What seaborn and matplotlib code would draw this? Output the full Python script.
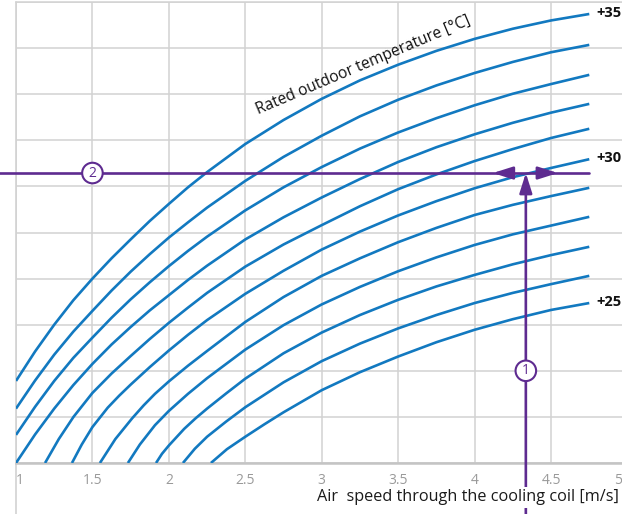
import numpy as np
import pandas as pd
import matplotlib
matplotlib.use("Agg")
import matplotlib.pyplot as plt
from matplotlib.transforms import ScaledTranslation
import seaborn as sns

# readings of the curves: air speed [m/s] -> output (grid units, 0..10)
temps = [35, 34, 33, 32, 31, 30, 29, 28, 27, 26, 25]

xq = [1.0, 1.125, 1.25, 1.375, 1.5, 1.625, 1.75, 1.875, 2.0, 2.125, 2.25, 2.5, 2.75,
      3.0, 3.25, 3.5, 3.75, 4.0, 4.25, 4.5, 4.75]
x35 = xq
y35 = [1.78, 2.42, 3.00, 3.53, 4.00, 4.44, 4.85, 5.25, 5.62, 5.98, 6.31, 6.92, 7.44,
       7.90, 8.30, 8.64, 8.94, 9.20, 9.42, 9.60, 9.74]
x34 = xq
y34 = [1.18, 1.79, 2.35, 2.85, 3.30, 3.74, 4.15, 4.53, 4.89, 5.22, 5.54, 6.12, 6.64,
       7.10, 7.52, 7.88, 8.19, 8.46, 8.70, 8.91, 9.07]
x33 = xq
y33 = [0.61, 1.22, 1.78, 2.28, 2.72, 3.15, 3.55, 3.92, 4.27, 4.60, 4.91, 5.48, 5.98,
       6.42, 6.82, 7.17, 7.48, 7.76, 8.01, 8.22, 8.42]
x32 = xq
y32 = [0.0, 0.62, 1.18, 1.69, 2.15, 2.57, 2.95, 3.31, 3.64, 3.97, 4.28, 4.85, 5.33,
       5.76, 6.16, 6.53, 6.85, 7.13, 7.38, 7.60, 7.79]
x31 = [1.19, 1.28, 1.376, 1.5, 1.625, 1.75, 1.875, 2.0, 2.125, 2.25, 2.5, 2.75, 3.0,
       3.25, 3.5, 3.75, 4.0, 4.25, 4.5, 4.75]
y31 = [0.0, 0.52, 1.0, 1.52, 1.94, 2.32, 2.69, 3.04, 3.37, 3.69, 4.26, 4.74, 5.16,
       5.57, 5.94, 6.26, 6.55, 6.81, 7.05, 7.25]
x30 = [1.366, 1.43, 1.5, 1.6, 1.675, 1.75, 1.875, 2.0, 2.125, 2.25, 2.5, 2.75, 3.0,
       3.25, 3.5, 3.75, 4.0, 4.25, 4.5, 4.75]
y30 = [0.0, 0.40, 0.78, 1.20, 1.46, 1.70, 2.08, 2.44, 2.78, 3.10, 3.67, 4.17, 4.63,
       5.02, 5.37, 5.68, 5.96, 6.20, 6.40, 6.59]
x29 = [1.549, 1.65, 1.76, 1.835, 1.909, 2.0, 2.125, 2.25, 2.5, 2.75, 3.0, 3.25, 3.5,
       3.75, 4.0, 4.25, 4.5, 4.75]
y29 = [0.0, 0.52, 0.97, 1.25, 1.50, 1.77, 2.11, 2.43, 3.06, 3.60, 4.06, 4.44, 4.79,
       5.10, 5.38, 5.60, 5.79, 5.97]
x28 = [1.732, 1.81, 1.909, 2.0, 2.125, 2.25, 2.5, 2.75, 3.0, 3.25, 3.5, 3.75, 4.0,
       4.25, 4.5, 4.75]
y28 = [0.0, 0.40, 0.82, 1.13, 1.50, 1.84, 2.46, 2.99, 3.44, 3.82, 4.16, 4.46, 4.73,
       4.96, 5.15, 5.34]
x27 = [1.916, 1.955, 2.0, 2.1, 2.175, 2.25, 2.375, 2.5, 2.75, 3.0, 3.25, 3.5, 3.75,
       4.0, 4.25, 4.5, 4.75]
y27 = [0.0, 0.20, 0.38, 0.74, 0.97, 1.18, 1.51, 1.83, 2.38, 2.83, 3.21, 3.54, 3.83,
       4.08, 4.31, 4.51, 4.69]
x26 = [2.092, 2.17, 2.25, 2.375, 2.5, 2.75, 3.0, 3.25, 3.5, 3.75, 4.0, 4.25, 4.5, 4.75]
y26 = [0.0, 0.31, 0.57, 0.90, 1.21, 1.75, 2.21, 2.59, 2.92, 3.21, 3.47, 3.69, 3.88, 4.06]
x25 = [2.275, 2.38, 2.5, 2.625, 2.75, 3.0, 3.25, 3.5, 3.75, 4.0, 4.25, 4.5, 4.75]
y25 = [0.0, 0.30, 0.57, 0.84, 1.10, 1.58, 1.97, 2.31, 2.62, 2.89, 3.12, 3.32, 3.47]

xs = [x35, x34, x33, x32, x31, x30, x29, x28, x27, x26, x25]
ys = [y35, y34, y33, y32, y31, y30, y29, y28, y27, y26, y25]
labelled = [35, 30, 25]

xticks = [1, 1.5, 2, 2.5, 3, 3.5, 4, 4.5, 5]
xtick_labels = ["1", "1.5", "2", "2.5", "3", "3.5", "4", "4.5", "5"]
yticks = list(range(0, 11))

# worked example: 4.33 m/s at +30 degC
op_speed = 4.335
op_level = 6.29
marker1_level = 2.0
marker2_speed = 1.5

blue = "#1279c0"
purple = "#5e2b90"
gridc = "#d2d2d2"

df = pd.concat(
    [pd.DataFrame({"speed": x, "output": y, "temp": t}) for x, y, t in zip(xs, ys, temps)],
    ignore_index=True,
)

sns.set_style("white")
plt.rcParams["font.family"] = ["Open Sans", "DejaVu Sans"]

fig = plt.figure(figsize=(6.22, 5.14), dpi=100)
ax = fig.add_axes([16 / 622, 51 / 514, 611.5 / 622, 461 / 514])

sns.lineplot(data=df, x="speed", y="output", units="temp", estimator=None,
             sort=False, color=blue, lw=1.9, ax=ax, zorder=3)
for line in ax.lines:
    line.set_solid_joinstyle("round")
    line.set_solid_capstyle("butt")

ax.set_xlim(1, 5)
ax.set_ylim(0, 10)
ax.set_xticks(xticks)
ax.set_xticklabels(xtick_labels)
ax.set_yticks(yticks)
ax.set_yticklabels([])
ax.set_xlabel("")
ax.set_ylabel("")
ax.grid(True, color=gridc, lw=1.1, zorder=0)
ax.set_axisbelow(True)
ax.tick_params(length=0, colors="#9a9a9a", labelsize=10, pad=7)
labs = ax.get_xticklabels()
for lab in labs:
    lab.set_color("#9a9a9a")
labs[0].set_ha("left")
labs[-1].set_ha("right")
labs[-1].set_transform(labs[-1].get_transform()
                       + ScaledTranslation(-4 / 72, 0, fig.dpi_scale_trans))

ax.spines["right"].set_visible(False)
ax.spines["left"].set_visible(False)
ax.spines["top"].set_color(gridc)
ax.spines["top"].set_linewidth(1.1)
ax.spines["bottom"].set_color("#c4c4c4")
ax.spines["bottom"].set_linewidth(1.8)
# left border runs down past the tick labels
ax.plot([0, 0], [-0.12, 1], transform=ax.transAxes, clip_on=False,
        color=gridc, lw=1.2, zorder=1)

# temperature labels at curve ends
for x, y, t in zip(xs, ys, temps):
    if t in labelled:
        ax.annotate(f"+{t}", xy=(x[-1], y[-1]), xytext=(5, 1), textcoords="offset points",
                    ha="left", va="center", fontsize=10.5, fontweight="bold",
                    color="#111111", annotation_clip=False)

ax.text(3.27, 8.62, "Rated outdoor temperature [°C]", rotation=23,
        rotation_mode="anchor", ha="center", va="center", fontsize=11.2, color="#111111")

# worked example lines
x_end = max(x[-1] for x in xs)
ax.plot([0.89, x_end], [op_level, op_level], color=purple, lw=1.9, clip_on=False, zorder=4)
head = "-|>,head_length=1.2,head_width=0.38"
ax.annotate("", xy=(op_speed, op_level), xytext=(op_speed, -1.2),
            arrowprops=dict(arrowstyle=head, color=purple, lw=1.9, shrinkA=0, shrinkB=0),
            annotation_clip=False, zorder=4)
ax.annotate("", xy=(op_speed - 0.216, op_level), xytext=(op_speed - 0.09, op_level),
            arrowprops=dict(arrowstyle=head, color=purple, lw=1.9, shrinkA=0, shrinkB=0),
            zorder=4)
ax.annotate("", xy=(op_speed + 0.21, op_level), xytext=(op_speed + 0.09, op_level),
            arrowprops=dict(arrowstyle=head, color=purple, lw=1.9, shrinkA=0, shrinkB=0),
            zorder=4)

circ = dict(boxstyle="circle,pad=0.2", fc="white", ec=purple, lw=1.5)
ax.text(marker2_speed, op_level, "2", ha="center", va="center", fontsize=10,
        color=purple, bbox=circ, zorder=6)
ax.text(op_speed, marker1_level, "1", ha="center", va="center", fontsize=10,
        color=purple, bbox=circ, zorder=6)

ax.text(0.986, -0.074, "Air  speed through the cooling coil [m/s]", transform=ax.transAxes,
        ha="right", va="center", fontsize=11.7, color="#1a1a1a", zorder=7,
        bbox=dict(boxstyle="square,pad=0.15", fc="white", ec="none"))

fig.savefig("out.png", dpi=100)
